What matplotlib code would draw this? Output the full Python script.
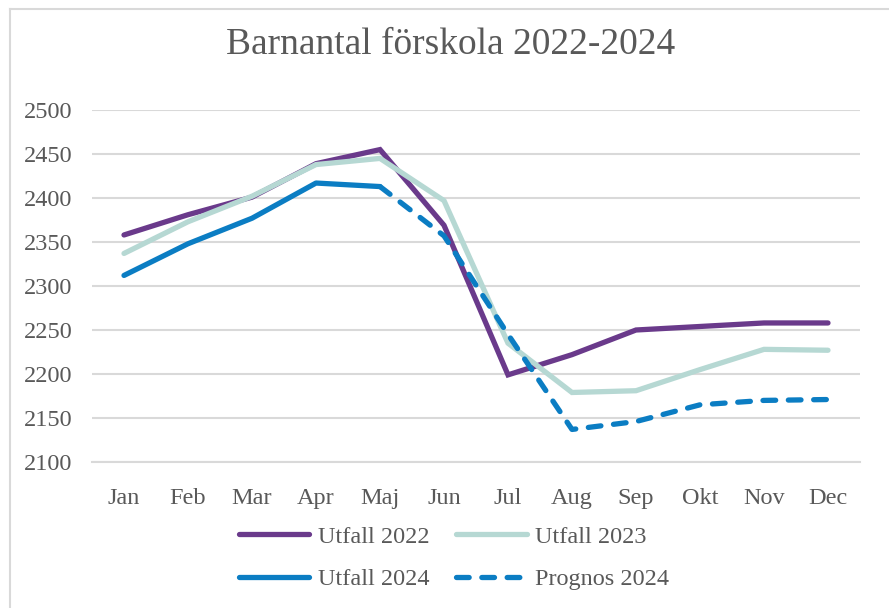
import numpy as np
import matplotlib
matplotlib.use("Agg")
import matplotlib.pyplot as plt
from matplotlib.lines import Line2D

months = ["Jan", "Feb", "Mar", "Apr", "Maj", "Jun", "Jul", "Aug", "Sep", "Okt", "Nov", "Dec"]
utfall_2022 = [2358, 2381, 2401, 2439, 2455, 2369, 2199, 2222, 2250, 2254, 2258, 2258]
utfall_2023 = [2337, 2373, 2402, 2438, 2445, 2397, 2235, 2179, 2181, 2205, 2228, 2227]
utfall_2024 = [2312, 2348, 2377, 2417, 2413, None, None, None, None, None, None, None]
prognos_2024 = [None, None, None, None, 2413, 2357, 2245, 2137, 2146, 2165, 2170, 2171]
y_ticks = [2100, 2150, 2200, 2250, 2300, 2350, 2400, 2450, 2500]

def arr(v):
    return np.array([np.nan if x is None else x for x in v], dtype=float)

plt.rcParams['font.family'] = ['Liberation Serif', 'DejaVu Serif']
TXT = '#595959'
C22 = '#6A3A8B'
C23 = '#B6D8D3'
C24 = '#0B7DC3'

fig = plt.figure(figsize=(8.89, 6.08), dpi=100)
ax = fig.add_axes([92/889, 1-462/608, (860-92)/889, (462-110)/608])
x = np.arange(len(months))
lw = 3.8
DASH = (2.4, 2.4)
ax.plot(x, arr(utfall_2022), color=C22, lw=lw, solid_capstyle='round', solid_joinstyle='miter', zorder=3)
ax.plot(x, arr(utfall_2023), color=C23, lw=lw, solid_capstyle='round', solid_joinstyle='miter', zorder=3)
ax.plot(x, arr(utfall_2024), color=C24, lw=lw, solid_capstyle='round', zorder=4)
ax.plot(x, arr(prognos_2024), color=C24, lw=lw, dashes=DASH, dash_capstyle='round', zorder=4)

ax.set_xlim(-0.5, 11.5)
ax.set_ylim(2100, 2500)
ax.set_yticks(y_ticks)
ax.set_xticks(x)
ax.set_xticklabels(months)
ax.yaxis.grid(True, color='#D9D9D9', lw=1.5)
ax.set_axisbelow(True)
for s in ax.spines.values():
    s.set_visible(False)
ax.spines['bottom'].set_visible(True)
ax.spines['bottom'].set_color('#D9D9D9')
ax.spines['bottom'].set_linewidth(1.5)
ax.tick_params(axis='both', length=0, labelsize=17.5, labelcolor=TXT)
ax.tick_params(axis='y', pad=14)
ax.tick_params(axis='x', pad=19)

fig.text(451/889, 1-45/608, "Barnantal förskola 2022-2024", ha='center', va='center',
         fontsize=27, color=TXT)

handles = [
    Line2D([], [], color=C22, lw=lw, solid_capstyle='round'),
    Line2D([], [], color=C24, lw=lw, solid_capstyle='round'),
    Line2D([], [], color=C23, lw=lw, solid_capstyle='round'),
    Line2D([], [], color=C24, lw=lw, dashes=DASH, dash_capstyle='round'),
]
labels = ["Utfall 2022", "Utfall 2024", "Utfall 2023", "Prognos 2024"]
leg = fig.legend(handles, labels, ncol=2, loc='center', bbox_to_anchor=(454/889, 1-558/608),
                 frameon=False, fontsize=17.5, handlelength=2.9, handletextpad=0.35,
                 columnspacing=1.1, labelspacing=0.85)
for t in leg.get_texts():
    t.set_color(TXT)

# outer chart border (top and left visible)
fig.add_artist(Line2D([10/889, 1], [1-9/608, 1-9/608], color='#D9D9D9', lw=1.5, transform=fig.transFigure))
fig.add_artist(Line2D([10/889, 10/889], [0, 1-9/608], color='#D9D9D9', lw=1.5, transform=fig.transFigure))

fig.savefig("out.png", dpi=100)
